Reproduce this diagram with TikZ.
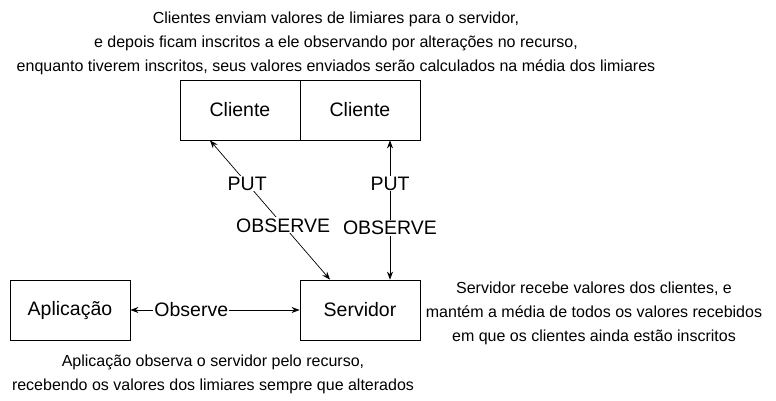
\documentclass[tikz,border=0pt]{standalone}
\usepackage{fontspec}
\setmainfont{Liberation Sans}
\usepackage{tikz}
\usetikzlibrary{arrows.meta,calc,positioning}

\tikzset{
  caixa/.style={draw=black,line width=0.8pt,minimum width=120pt,minimum height=60pt,font=\fontsize{19.5}{22}\selectfont},
  nota/.style={align=center,font=\fontsize{16}{24}\selectfont},
  seta/.style={{Stealth[length=8pt,width=6pt]}-{Stealth[length=8pt,width=6pt]},line width=0.7pt},
  rotulo/.style={fill=white,inner sep=1pt,font=\fontsize{19.5}{22}\selectfont}
}

\begin{document}
\begin{tikzpicture}[x=1pt,y=-1pt]
\useasboundingbox (0,0) rectangle (776,401);
% caixas
\node[caixa] (cli1) at (240,110) {Cliente};
\node[caixa] (cli2) at (360,110) {Cliente};
\node[caixa] (srv) at (360,310) {Servidor};
\node[caixa] (app) at (70,310) {Aplicação};
% notas
\node[nota] (topo) at (336,43) {Clientes enviam valores de limiares para o servidor,\\e depois ficam inscritos a ele observando por alterações no recurso,\\enquanto tiverem inscritos, seus valores enviados serão calculados na média dos limiares};
\node[nota] (dir) at (594,313) {Servidor recebe valores dos clientes, e\\mantém a média de todos os valores recebidos\\em que os clientes ainda estão inscritos};
\node[nota] (baixo) at (213,374) {Aplicação observa o servidor pelo recurso,\\recebendo os valores dos limiares sempre que alterados};
% setas
\draw[seta] ([xshift=-30pt]cli1.south) -- ([xshift=-30pt]srv.north)
  node[rotulo,pos=0.31] {PUT}
  node[rotulo,pos=0.61] {OBSERVE};
\draw[seta] ([xshift=30pt]cli2.south) -- ([xshift=30pt]srv.north)
  node[rotulo,pos=0.31] {PUT}
  node[rotulo,pos=0.63] {OBSERVE};
\draw[seta] (app.east) -- (srv.west)
  node[rotulo,pos=0.36] {Observe};
\end{tikzpicture}
\end{document}
